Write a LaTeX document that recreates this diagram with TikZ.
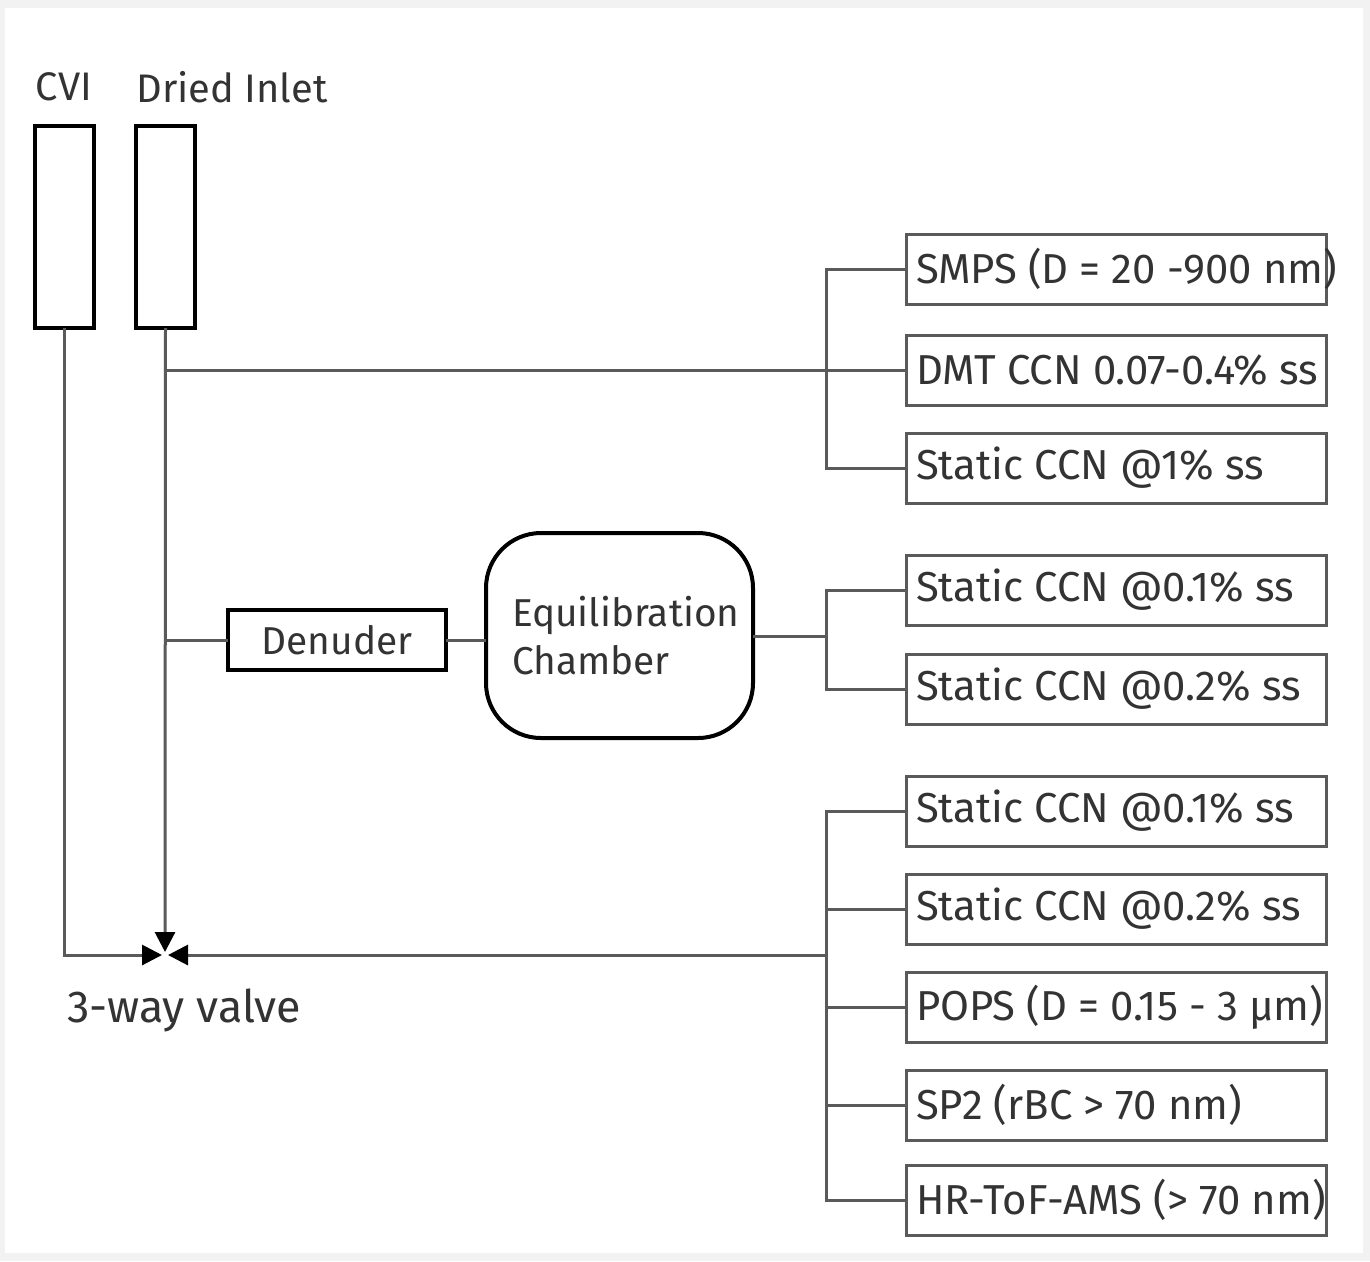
\documentclass[tikz,border=0pt]{standalone}
\usepackage{fontspec}
\setmainfont{Fira Sans}
\usetikzlibrary{arrows.meta}
\definecolor{txt}{HTML}{333333}
\definecolor{ln}{HTML}{5A5A5A}
\definecolor{bg}{HTML}{F2F2F2}
\begin{document}
\begin{tikzpicture}[x=1bp,y=-1bp,
  every node/.style={inner sep=0pt, outer sep=0pt, text=txt, font=\fontsize{42}{48}\selectfont},
  inlet/.style={draw=black, line width=4bp, minimum width=59bp, minimum height=202bp},
  instr/.style={draw=ln, line width=3bp, minimum width=420bp, minimum height=70bp},
  lbl/.style={anchor=west},
  pipe/.style={draw=ln, line width=3bp},
  tip/.style={-{Triangle[length=20bp,width=20bp,color=black,fill=black]}, shorten >=3bp}
]
\fill[bg] (0,0) rectangle (1370,1261);
\fill[white] (5,8) rectangle (1363,1253);
\useasboundingbox (0,0) rectangle (1370,1261);

% inlets
\node[inlet] (cvi) at (64.5,227) {};
\node[inlet] (dried) at (165.5,227) {};
\node[font=\fontsize{40}{46}\selectfont] (cvil) at (64,87) {CVI};
\node[font=\fontsize{40}{46}\selectfont] (driedl) at (232,87) {Dried Inlet};

% denuder and chamber
\node[draw=black, line width=4bp, minimum width=218bp, minimum height=60bp, font=\fontsize{39}{46}\selectfont] (den) at (337,640) {Denuder};
\node[draw=black, line width=4bp, minimum width=267bp, minimum height=205bp, rounded corners=55bp, align=left, text width=215bp, inner xsep=26bp, font=\fontsize{39}{48}\selectfont] (ch) at (619.5,635.5) {Equilibration\\Chamber};

% instruments
\foreach \n/\y/\t in {b1/269/{SMPS (D = 20 -900 nm)}, b2/370/{DMT CCN 0.07-0.4\% ss}, b3/468/{Static CCN @1\% ss},
  b4/590/{Static CCN @0.1\% ss}, b5/689/{Static CCN @0.2\% ss},
  b6/811/{Static CCN @0.1\% ss}, b7/909/{Static CCN @0.2\% ss}, b8/1007/{POPS (D = 0.15 - 3 µm)},
  b9/1105/{SP2 (rBC > 70 nm)}, b10/1200/{HR-ToF-AMS (> 70 nm)}}{
  \node[instr] (\n) at (1116,\y) {};
  \node[lbl] (\n t) at ([xshift=10bp]\n.west) {\t};
}

% valve
\coordinate (v) at (165,955);
\node[font=\fontsize{45}{52}\selectfont] (vl) at (184,1010) {3-way valve};

% CVI and dried lines to valve
\draw[pipe, tip] (cvi.south) |- (v);
\draw[pipe, tip] (dried.south) -- (v);

% dried inlet branch to top group
\coordinate (d1) at (165,370);
\coordinate (bus1) at (826,370);
\draw[pipe] (d1) -- (b2.west);
\draw[pipe] (b1.west) -| (bus1) |- (b3.west);

% denuder branch
\draw[pipe] (dried.south |- den.west) -- (den.west);
\draw[pipe] (den.east) -- (ch.west |- den.east);
\coordinate (bus2) at (826,636);
\draw[pipe] (ch.east |- bus2) -- (bus2);
\draw[pipe] (b4.west) -| (bus2) |- (b5.west);

% bottom group
\coordinate (bus3) at (826,955);
\draw[pipe] (b6.west) -| (bus3) |- (b10.west);
\foreach \n in {b7,b8,b9}{ \draw[pipe] (bus3 |- \n.west) -- (\n.west); }
\draw[pipe, tip] (bus3) -- (v);
\end{tikzpicture}
\end{document}
